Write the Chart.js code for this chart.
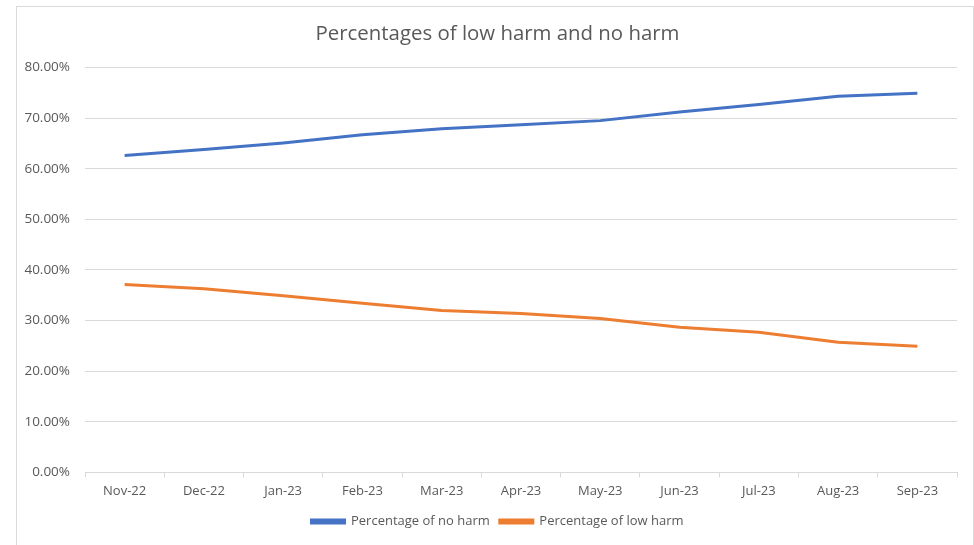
<!DOCTYPE html>
<html>
<head>
<meta charset="utf-8">
<script src="https://cdn.jsdelivr.net/npm/chart.js@4.4.0/dist/chart.umd.min.js"></script>
<style>
  html, body { margin: 0; padding: 0; background: #ffffff; }
  body { width: 974px; height: 545px; overflow: hidden; position: relative; }
  .frame {
    position: absolute; left: 16px; top: 6px; width: 956px; height: 560px;
    border: 1px solid #d9d9d9; background: #fff;
  }
  .wrap { position: absolute; left: 16px; top: 6px; width: 963px; height: 539px; }
</style>
</head>
<body>
<div class="frame"></div>
<div class="wrap"><canvas id="chart"></canvas></div>
<script>
const months = ["Nov-22", "Dec-22", "Jan-23", "Feb-23", "Mar-23", "Apr-23",
                "May-23", "Jun-23", "Jul-23", "Aug-23", "Sep-23"];
const noHarm = [62.6, 63.8, 65.1, 66.7, 67.9, 68.7, 69.5, 71.2, 72.7, 74.3, 74.9];
const lowHarm = [37.1, 36.3, 34.9, 33.4, 32.0, 31.4, 30.4, 28.7, 27.7, 25.7, 24.9];
const yTicks = [0, 10, 20, 30, 40, 50, 60, 70, 80];

const grey = "#595959";
const gridGrey = "#d9d9d9";
const font = "'Open Sans', 'Liberation Sans', sans-serif";

const ctx = document.getElementById("chart").getContext("2d");
new Chart(ctx, {
  type: "line",
  data: {
    labels: months,
    datasets: [
      {
        label: "Percentage of no harm",
        data: noHarm,
        borderColor: "#4472C4",
        backgroundColor: "#4472C4",
        borderWidth: 3,
        pointRadius: 0,
        tension: 0,
        fill: false,
      },
      {
        label: "Percentage of low harm",
        data: lowHarm,
        borderColor: "#ED7D31",
        backgroundColor: "#ED7D31",
        borderWidth: 3,
        pointRadius: 0,
        tension: 0,
        fill: false,
      },
    ],
  },
  options: {
    responsive: true,
    maintainAspectRatio: false,
    animation: false,
    layout: { padding: { left: 0, right: 0, top: 0, bottom: 7 } },
    plugins: {
      title: {
        display: true,
        text: "Percentages of low harm and no harm",
        color: grey,
        font: { family: font, size: 20.4, weight: "normal" },
        padding: { top: 16, bottom: 21 },
      },
      legend: {
        position: "bottom",
        labels: {
          color: grey,
          font: { family: font, size: 13 },
          boxWidth: 33,
          boxHeight: 3,
          padding: 10,
        },
      },
      tooltip: { enabled: false },
    },
    scales: {
      x: {
        offset: true,
        grid: {
          offset: true,
          drawOnChartArea: false,
          color: gridGrey,
          tickLength: 5,
        },
        border: { color: gridGrey },
        ticks: { color: grey, font: { family: font, size: 13 }, padding: 6, maxRotation: 0 },
      },
      y: {
        min: 0,
        max: 80,
        afterBuildTicks: (scale) => {
          scale.ticks = yTicks.map((v) => ({ value: v }));
        },
        afterFit: (scale) => {
          scale.width = 69;
        },
        grid: { color: gridGrey, drawTicks: false },
        border: { display: false },
        ticks: {
          color: grey,
          font: { family: font, size: 13.5 },
          padding: 15,
          callback: (v) => v.toFixed(2) + "%",
        },
      },
      // empty axis on the right, only keeps the plot off the frame edge
      yRight: {
        position: "right",
        grid: { display: false },
        border: { display: false },
        ticks: { display: false },
        afterFit: (scale) => {
          scale.width = 22;
        },
      },
    },
  },
});
</script>
</body>
</html>
